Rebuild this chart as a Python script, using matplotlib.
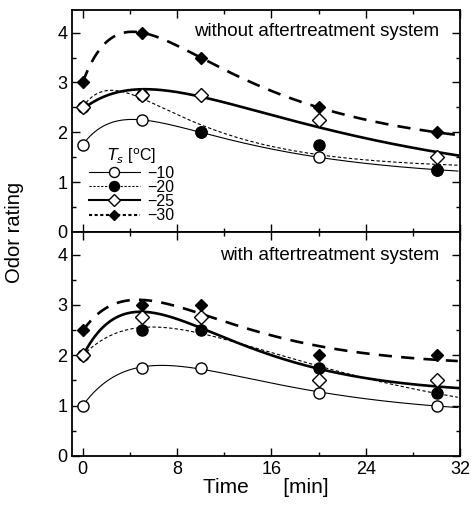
import numpy as np
import matplotlib
matplotlib.use("Agg")
import matplotlib.pyplot as plt
from matplotlib.ticker import MultipleLocator

plt.rcParams['font.family'] = ['Liberation Sans', 'DejaVu Sans']

time = [0, 5, 10, 20, 30]
temps = ["\u221210", "\u221220", "\u221225", "\u221230"]

without_m10 = [1.75, 2.25, 2.0, 1.5, 1.25]
without_m20 = [2.5, 2.75, 2.0, 1.75, 1.25]
without_m25 = [2.5, 2.75, 2.75, 2.25, 1.5]
without_m30 = [3.0, 4.0, 3.5, 2.5, 2.0]

with_m10 = [1.0, 1.75, 1.75, 1.25, 1.0]
with_m20 = [2.0, 2.5, 2.5, 1.75, 1.25]
with_m25 = [2.0, 2.75, 2.75, 1.5, 1.5]
with_m30 = [2.5, 3.0, 3.0, 2.0, 2.0]

panel_titles = ["without aftertreatment system", "with aftertreatment system"]


def fit_curve(t, y, tt):
    # least-squares fit of a rise-and-decay curve c + a*exp(-t/t1) + b*exp(-t/t2)
    t = np.asarray(t, float)
    y = np.asarray(y, float)
    best = None
    for t1 in np.linspace(6, 20, 40):
        for t2 in np.linspace(2.5, 5.5, 30):
            A = np.column_stack([np.ones_like(t), np.exp(-t / t1), np.exp(-t / t2)])
            c, *_ = np.linalg.lstsq(A, y, rcond=None)
            e = np.sum((A @ c - y) ** 2)
            if best is None or e < best[0]:
                best = (e, t1, t2, c)
    _, t1, t2, c = best
    return c[0] + c[1] * np.exp(-tt / t1) + c[2] * np.exp(-tt / t2)


styles = [
    dict(ls='-', lw=0.8, marker='o', mfc='white', mec='black', ms=8, lls='-', llw=0.8),
    dict(ls=(0, (3, 2)), lw=0.8, marker='o', mfc='black', mec='black', ms=8, lls=(0, (2, 1.5)), llw=0.8),
    dict(ls='-', lw=1.9, marker='D', mfc='white', mec='black', ms=7, lls='-', llw=1.5),
    dict(ls=(0, (5, 3.5)), lw=1.9, marker='D', mfc='black', mec='black', ms=6, lls=(0, (1.5, 1.2)), llw=1.5),
]

fig = plt.figure(figsize=(4.71, 5.11), dpi=100)
ax1 = fig.add_axes([0.153, 0.546, 0.824, 0.434])
ax2 = fig.add_axes([0.153, 0.108, 0.824, 0.438])

tt = np.linspace(0, 31.8, 300)
datasets = [[without_m10, without_m20, without_m25, without_m30],
            [with_m10, with_m20, with_m25, with_m30]]
title_y = [0.905, 0.897]

for ax, data, title, ty in zip([ax1, ax2], datasets, panel_titles, title_y):
    handles = []
    for y, st in zip(data, styles):
        ax.plot(tt, fit_curve(time, y, tt), color='black', ls=st['ls'], lw=st['lw'], zorder=2)
        ax.plot(time, y, ls='none', marker=st['marker'], mfc=st['mfc'], mec=st['mec'],
                ms=st['ms'], mew=1.0, zorder=3)
        h, = ax.plot([], [], color='black', ls=st['lls'], lw=st['llw'],
                     marker=st['marker'], mfc=st['mfc'], mec=st['mec'], ms=st['ms'] * 0.9, mew=1.0)
        handles.append(h)
    ax.set_xlim(-0.9, 32)
    ax.set_ylim(0, 4.45)
    ax.xaxis.set_major_locator(MultipleLocator(8))
    ax.xaxis.set_minor_locator(MultipleLocator(4))
    ax.yaxis.set_major_locator(MultipleLocator(1))
    ax.yaxis.set_minor_locator(MultipleLocator(0.5))
    ax.tick_params(which='both', direction='in', top=True, right=True, labelsize=13, width=1)
    ax.tick_params(which='major', length=6)
    ax.tick_params(which='minor', length=3)
    for s in ax.spines.values():
        s.set_linewidth(1.3)
    ax.text(0.945, ty, title, transform=ax.transAxes, ha='right', va='center', fontsize=13.5)
    if ax is ax1:
        ax.legend(handles, temps, loc='lower left', bbox_to_anchor=(0.02, 0.0),
                  title=r'$T_s$ [$^{\rm o}$C]', frameon=False, fontsize=11.5,
                  title_fontsize=11.5, handlelength=3.2, handletextpad=0.5,
                  labelspacing=-0.05, borderaxespad=0.35, borderpad=0.2)
        ax.tick_params(labelbottom=False)

ax2.set_xticks([0, 8, 16, 24, 32])
ax2.set_xlabel("Time      [min]", fontsize=15, labelpad=0)
fig.text(0.03, 0.545, "Odor rating", rotation=90, ha='center', va='center', fontsize=14.5)

fig.savefig("out.png", dpi=100)
